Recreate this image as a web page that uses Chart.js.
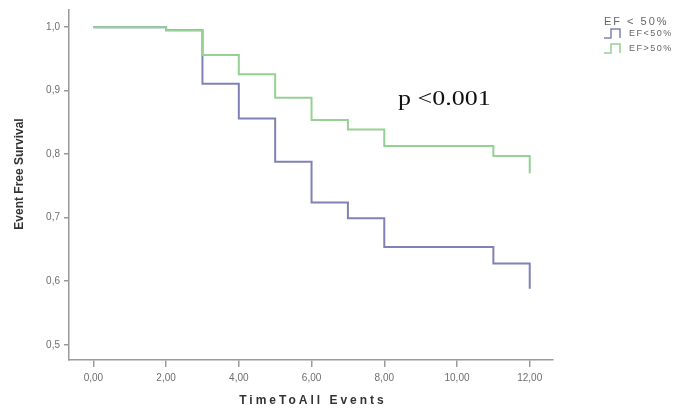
<!DOCTYPE html>
<html>
<head>
<meta charset="utf-8">
<script src="https://cdn.jsdelivr.net/npm/chart.js@4.4.1/dist/chart.umd.min.js"></script>
<style>
html,body{margin:0;padding:0;background:#fff;}
#wrap{width:697px;height:416px;position:relative;}
</style>
</head>
<body>
<div id="wrap"><canvas id="c" width="697" height="416"></canvas></div>
<script>
// Data (Kaplan-Meier step points: time, survival)
const timesLow  = [0, 2, 3, 4, 5, 6, 7, 8, 11, 12];
const survLow   = [1.0, 0.995, 0.911, 0.856, 0.788, 0.724, 0.699, 0.654, 0.628, 0.588];
const timesHigh = [0, 2, 3, 4, 5, 6, 7, 8, 11, 12];
const survHigh  = [1.0, 0.995, 0.956, 0.926, 0.889, 0.854, 0.839, 0.813, 0.797, 0.770];
const seriesLabels = ["EF<50%", "EF>50%"];
const legendTitle = "EF < 50%";
const xTicks = [0, 2, 4, 6, 8, 10, 12];
const yTicks = [0.5, 0.6, 0.7, 0.8, 0.9, 1.0];
const xTitle = "TimeToAll Events";
const yTitle = "Event Free Survival";
const pText = "p <0.001";

const BLUE = "#7f82b6";
const GREEN = "#95d095";
const AXIS = "#9a9a9a";
const TICKTXT = "#6e6e6e";

const toPts = (xs, ys) => xs.map((x, i) => ({x: x, y: ys[i]}));

const extras = {
  id: 'extras',
  afterDraw(chart) {
    const ctx = chart.ctx;
    ctx.save();
    // p value (horizontally stretched like the reference)
    ctx.save();
    ctx.translate(398, 105);
    ctx.scale(1.3, 1);
    ctx.fillStyle = "#111";
    ctx.font = "20px 'Liberation Serif', serif";
    ctx.textBaseline = "alphabetic";
    ctx.textAlign = "left";
    ctx.fillText(pText, 0, 0);
    ctx.restore();
    // x title
    ctx.font = "bold 12px 'Liberation Sans', Arial, sans-serif";
    ctx.letterSpacing = "3px";
    ctx.fillStyle = "#333";
    ctx.textAlign = "center";
    ctx.textBaseline = "middle";
    ctx.fillText(xTitle, 313, 401);
    // y title
    ctx.save();
    ctx.translate(20, 174);
    ctx.rotate(-Math.PI / 2);
    ctx.letterSpacing = "0px";
    ctx.fillText(yTitle, 0, 0);
    ctx.restore();
    // legend
    ctx.letterSpacing = "2px";
    ctx.textAlign = "left";
    ctx.font = "11px 'Liberation Sans', Arial, sans-serif";
    ctx.fillStyle = "#666";
    ctx.fillText(legendTitle, 604, 22);
    const cols = [BLUE, GREEN];
    ctx.font = "9px 'Liberation Sans', Arial, sans-serif";
    ctx.letterSpacing = "1.5px";
    cols.forEach((c, i) => {
      const y0 = 38 + i * 15;
      ctx.strokeStyle = c;
      ctx.lineWidth = 1.5;
      ctx.beginPath();
      ctx.moveTo(604, y0);
      ctx.lineTo(611, y0);
      ctx.lineTo(611, y0 - 9);
      ctx.lineTo(620, y0 - 9);
      ctx.lineTo(620, y0);
      ctx.stroke();
      ctx.fillStyle = "#666";
      ctx.fillText(seriesLabels[i], 629, y0 - 4);
    });
    ctx.restore();
  }
};

new Chart(document.getElementById('c'), {
  type: 'line',
  data: {
    datasets: [
      { label: seriesLabels[1], data: toPts(timesHigh, survHigh), borderColor: GREEN, borderWidth: 2, stepped: 'before', pointRadius: 0, fill: false },
      { label: seriesLabels[0], data: toPts(timesLow, survLow), borderColor: BLUE, borderWidth: 2, stepped: 'before', pointRadius: 0, fill: false }
    ]
  },
  options: {
    responsive: false,
    animation: false,
    layout: { padding: { top: 10, right: 144, left: 0, bottom: 0 } },
    plugins: { legend: { display: false }, tooltip: { enabled: false } },
    scales: {
      x: {
        type: 'linear', min: -0.67, max: 12.64,
        afterBuildTicks: s => { s.ticks = xTicks.map(v => ({value: v})); },
        afterFit: s => { s.height = 56; },
        grid: { drawOnChartArea: false, drawTicks: true, tickLength: 7, color: AXIS, lineWidth: 1.5 },
        border: { display: true, color: AXIS, width: 1.5 },
        ticks: { color: TICKTXT, font: { size: 10, family: "'Liberation Sans', Arial, sans-serif" }, padding: 5,
                 callback: v => v.toFixed(2).replace('.', ',') },
        title: { display: false }
      },
      y: {
        type: 'linear', min: 0.476, max: 1.027,
        afterBuildTicks: s => { s.ticks = yTicks.map(v => ({value: v})); },
        afterFit: s => { s.width = 69; },
        grid: { drawOnChartArea: false, drawTicks: true, tickLength: 5, color: AXIS, lineWidth: 1.5 },
        border: { display: true, color: AXIS, width: 1.5 },
        ticks: { color: TICKTXT, font: { size: 10, family: "'Liberation Sans', Arial, sans-serif" }, padding: 4,
                 callback: v => v.toFixed(1).replace('.', ',') },
        title: { display: false }
      }
    }
  },
  plugins: [extras]
});
</script>
</body>
</html>
